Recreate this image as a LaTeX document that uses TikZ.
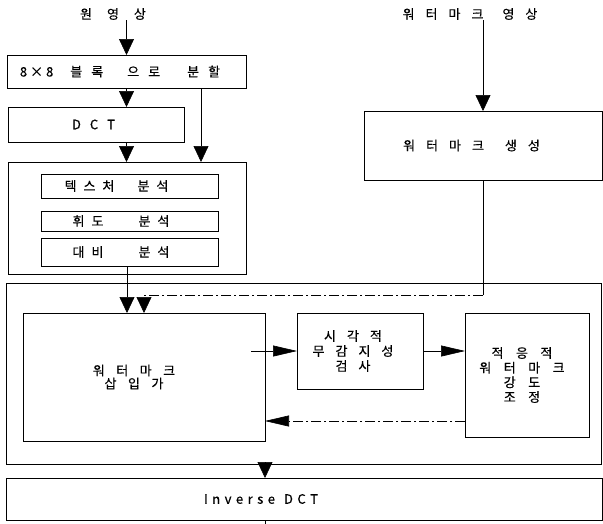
\documentclass[tikz,border=0pt]{standalone}
\usepackage{fontspec}
\newfontfamily\kr[FakeBold=0.4]{Noto Sans CJK KR}
\usetikzlibrary{arrows.meta,calc}

\begin{document}
\begin{tikzpicture}[x=1pt, y=-1pt, line width=0.6pt,
    box/.style={draw, inner sep=0pt, outer sep=0pt},
    lbl/.style={font={\kr\fontsize{13}{14}\selectfont\spaceskip=#1\relax}, align=center, inner sep=0pt},
    varrow/.style={-{Triangle[width=15pt,length=16pt]}},
    harrow/.style={-{Triangle[width=11pt,length=24pt]}},
    fbline/.style={dash pattern=on 10pt off 3pt on 2pt off 3pt}]
    \useasboundingbox (0,0) rectangle (603,523);

    % ---------- inputs ----------
    \node[lbl=15pt] (src) at (113,14) {원 영 상};
    \node[lbl=11pt] (wmsrc) at (470,14) {워 터 마 크\hspace{8pt} 영 상};

    % ---------- left column ----------
    \node[box, minimum width=239pt, minimum height=33pt,
        label={[lbl=9pt, xshift=-6.5pt]center:{8\hspace{3pt}×\hspace{3pt}8\hspace{17pt}블 록\hspace{24pt}으 로\hspace{27pt}분 할}}] (split) at (126.5,71.5) {};
    \node[box, minimum width=176pt, minimum height=35pt,
        label={[lbl=9pt, xshift=-2.5pt]center:D C T}] (dct) at (96,124.5) {};
    \node[box, minimum width=238pt, minimum height=112pt] (ana) at (127,218) {};
    \node[box, minimum width=177pt, minimum height=24pt,
        label={[lbl=7pt, xshift=-13pt]center:{텍 스 처\hspace{23pt}분 석}}] (tex) at (129.5,186) {};
    \node[box, minimum width=177pt, minimum height=20pt,
        label={[lbl=7pt, xshift=-8.5pt]center:{휘 도\hspace{35pt}분 석}}] (lum) at (129.5,221) {};
    \node[box, minimum width=177pt, minimum height=28pt,
        label={[lbl=7pt, xshift=-8.5pt]center:{대 비\hspace{35pt}분 석}}] (con) at (129.5,252) {};

    % ---------- watermark generation ----------
    \node[box, minimum width=238pt, minimum height=69pt,
        label={[lbl=11pt, xshift=-11.5pt]center:{워 터 마 크\hspace{10pt} 생 성}}] (wmgen) at (483,145.5) {};

    % ---------- embedding loop ----------
    \node[box, minimum width=595pt, minimum height=181pt] (outer) at (303.5,373.5) {};
    \node[box, minimum width=242pt, minimum height=128pt,
        label={[lbl=11.5pt, xshift=-10pt]center:{워 터 마 크\\[-1pt]삽 입 가}}] (ins) at (144,377) {};
    \node[box, minimum width=126pt, minimum height=76pt,
        label={[lbl=11pt, xshift=-7pt]center:{시 각 적\\[1pt]무 감 지 성\\[1pt]검 사}}] (vis) at (360,351) {};
    \node[box, minimum width=124pt, minimum height=124pt,
        label={[lbl=12.5pt, xshift=-5pt]center:{적 응 적\\[0.7pt]워 터 마 크\\[0.7pt]강 도\\[0.7pt]조 정}}] (ada) at (527,375) {};

    % ---------- output ----------
    \node[box, minimum width=596pt, minimum height=42pt,
        label={[lbl=4.5pt, xshift=-43pt]center:{I n v e r s e~ D C T}}] (idct) at (304,499) {};

    % ---------- connectors ----------
    \coordinate (rt) at (201,0);
    \coordinate (fb) at (0,295);
    \coordinate (back) at (0,421);
    \draw[varrow] (src.south -| split.north) -- (split.north);
    \draw[varrow] (split.south) -- (split.south |- dct.north);
    \draw[varrow] (split.south |- dct.south) -- (split.south |- ana.north);
    \draw[varrow] (split.south -| rt) -- (ana.north -| rt);
    \draw[varrow] (ana.center |- con.south) -- (ana.center |- ins.north);
    \draw[varrow] (wmsrc.south -| wmgen.north) -- (wmgen.north);
    \draw (wmgen.south) -- (wmgen.south |- fb);
    \draw[fbline, varrow] (wmgen.south |- fb) -| (ins.north);
    \draw[harrow] ($(vis.west -| ins.east)+(-14,0)$) -- (vis.west);
    \draw[harrow] (vis.east) -- (vis.east -| ada.west);
    \draw[fbline, harrow] (ada.west |- back) -- (ins.east |- back);
    \draw[varrow] (ins.east |- outer.south) -- (ins.east |- idct.north);
    \draw (ins.east |- idct.south) -- ++(0,4);
\end{tikzpicture}
\end{document}
